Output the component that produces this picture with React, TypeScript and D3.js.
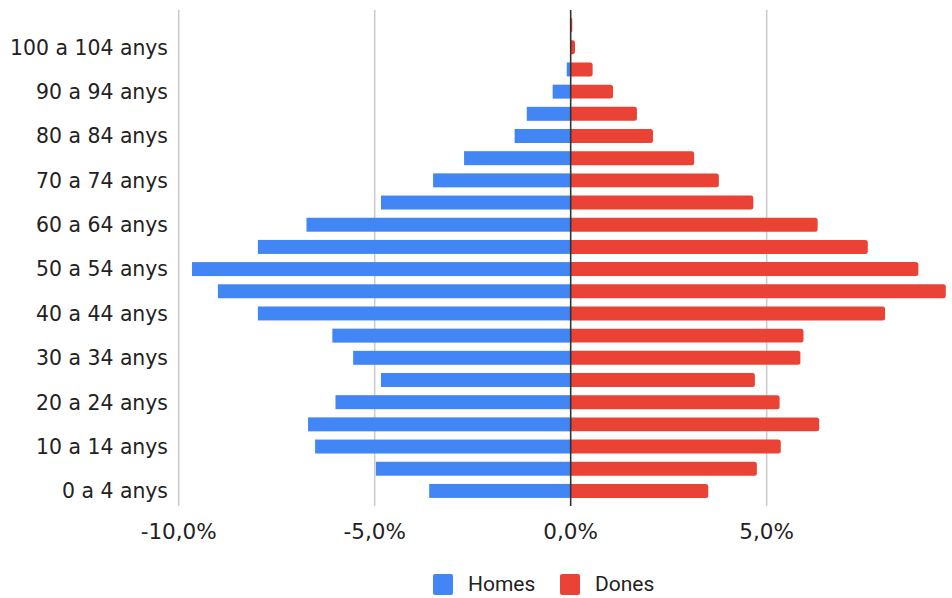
import * as d3 from "d3";

const ageGroups = [
  "0 a 4 anys", "5 a 9 anys", "10 a 14 anys", "15 a 19 anys", "20 a 24 anys",
  "25 a 29 anys", "30 a 34 anys", "35 a 39 anys", "40 a 44 anys", "45 a 49 anys",
  "50 a 54 anys", "55 a 59 anys", "60 a 64 anys", "65 a 69 anys", "70 a 74 anys",
  "75 a 79 anys", "80 a 84 anys", "85 a 89 anys", "90 a 94 anys", "95 a 99 anys",
  "100 a 104 anys", "105 a 109 anys",
];

// percentages of total population
const homes = [
  3.61, 4.97, 6.52, 6.7, 6.0, 4.84, 5.55, 6.08, 7.98, 9.0, 9.66,
  7.98, 6.74, 4.84, 3.51, 2.72, 1.43, 1.12, 0.46, 0.1, 0.01, 0.0,
];
const dones = [
  3.51, 4.75, 5.36, 6.34, 5.33, 4.7, 5.86, 5.94, 8.02, 9.57, 8.87,
  7.58, 6.3, 4.66, 3.78, 3.15, 2.1, 1.69, 1.08, 0.56, 0.11, 0.04,
];

const xTicks = [-10, -5, 0, 5];
const series = [
  { name: "Homes", color: "#4285F4" },
  { name: "Dones", color: "#EA4335" },
];

const width = 952;
const height = 598;
const textColor = "#222";
const labelFont = "'DejaVu Sans', Verdana, sans-serif";

const fmt = (v: number) => v.toFixed(1).replace(".", ",") + "%";

export default function App() {
  const x = d3.scaleLinear().domain([-10, 9.58]).range([178.7, 946.2]);
  const y = d3
    .scaleBand<number>()
    .domain(d3.range(ageGroups.length).reverse())
    .range([14, 502])
    .paddingInner(0.37)
    .paddingOuter(0.185);
  const bw = y.bandwidth();
  const x0 = x(0);

  // right-side bar with rounded outer corners
  const rightBar = (v: number, top: number) => {
    const w = x(v) - x0;
    if (w <= 0) return "";
    const r = Math.min(2.5, w / 2);
    const p = d3.path();
    p.moveTo(x0, top);
    p.lineTo(x0 + w - r, top);
    p.arcTo(x0 + w, top, x0 + w, top + r, r);
    p.lineTo(x0 + w, top + bw - r);
    p.arcTo(x0 + w, top + bw, x0 + w - r, top + bw, r);
    p.lineTo(x0, top + bw);
    p.closePath();
    return p.toString();
  };

  return (
    <div style={{ position: "fixed", left: 0, top: 0 }}>
      <svg width={width} height={height} style={{ display: "block", background: "#fff" }}>
        {xTicks.map((t) =>
          t === 0 ? null : (
            <line key={t} x1={x(t)} x2={x(t)} y1={10} y2={506} stroke="#ccc" strokeWidth={1.6} />
          )
        )}

        {ageGroups.map((g, i) => {
          const top = y(i)!;
          const wl = x0 - x(-homes[i]);
          return (
            <g key={g}>
              {wl > 0 && <rect x={x(-homes[i])} y={top} width={wl} height={bw} fill={series[0].color} />}
              <path d={rightBar(dones[i], top)} fill={series[1].color} />
            </g>
          );
        })}

        <line x1={x0} x2={x0} y1={10} y2={506} stroke="#333" strokeWidth={1.6} />

        {ageGroups.map((g, i) =>
          i % 2 === 0 ? (
            <text
              key={g}
              x={168}
              y={y(i)! + bw / 2}
              dy="0.36em"
              textAnchor="end"
              fontFamily={labelFont}
              fontSize={20.4}
              fill={textColor}
            >
              {g}
            </text>
          ) : null
        )}

        {xTicks.map((t) => (
          <text
            key={t}
            x={x(t)}
            y={539}
            textAnchor="middle"
            fontFamily={labelFont}
            fontSize={21.5}
            fill={textColor}
          >
            {fmt(t)}
          </text>
        ))}

        {series.map((s, i) => {
          const lx = i === 0 ? 433 : 560;
          return (
            <g key={s.name}>
              <rect x={lx} y={574} width={20} height={21} rx={2} fill={s.color} />
              <text
                x={lx + 35}
                y={591}
                fontFamily="Roboto, 'Open Sans', sans-serif"
                fontSize={21}
                fill={textColor}
              >
                {s.name}
              </text>
            </g>
          );
        })}
      </svg>
    </div>
  );
}
